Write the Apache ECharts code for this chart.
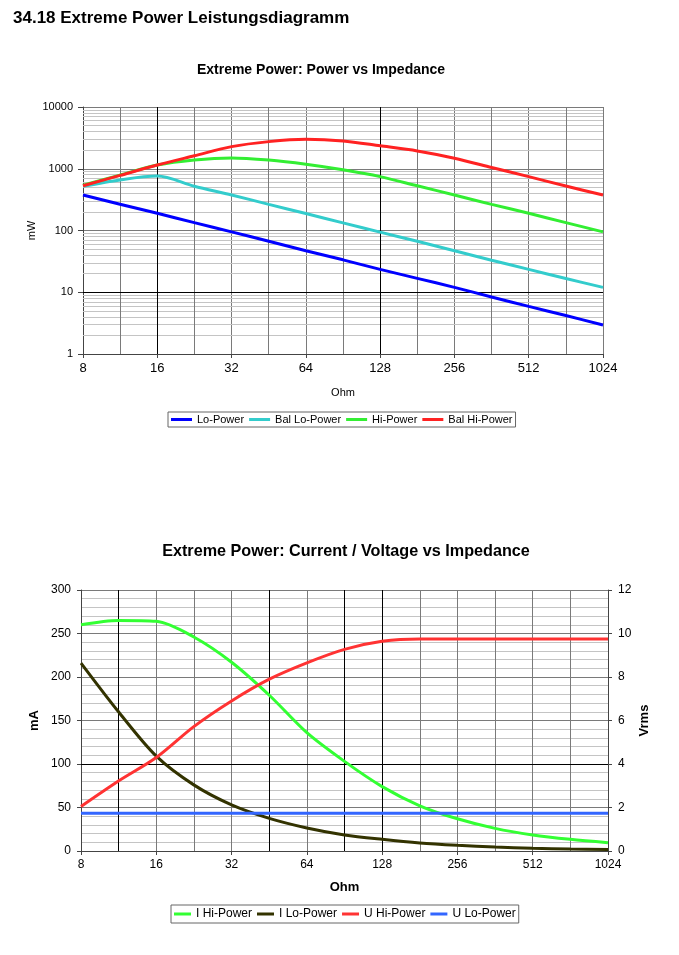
<!DOCTYPE html>
<html>
<head>
<meta charset="utf-8">
<script src="https://cdn.jsdelivr.net/npm/echarts@6/dist/echarts.min.js"></script>
<style>
html, body { margin: 0; padding: 0; background: #fff; }
#main { width: 679px; height: 955px; }
</style>
</head>
<body>
<div id="main"></div>
<script>
// impedance points (Ohm), half-octave steps
var ohm = [8, 11.3, 16, 22.6, 32, 45.3, 64, 90.5, 128, 181, 256, 362, 512, 724, 1024];

// power (mW)
var loPower    = [376, 266, 190, 134, 95, 67, 47, 33.5, 23.5, 16.8, 12, 8.4, 5.9, 4.2, 2.95];
var balLoPower = [520, 660, 760, 520, 376, 265, 188, 133, 94, 67, 47, 33, 23.5, 16.7, 12];
var hiPower    = [540, 790, 1150, 1390, 1500, 1380, 1180, 960, 745, 530, 376, 265, 190, 134, 95];
var balHiPower = [530, 780, 1150, 1620, 2280, 2750, 3000, 2820, 2350, 1940, 1480, 1050, 745, 525, 376];

// current (mA) / voltage (Vrms)
var iHiPower = [260, 265, 264, 246, 217, 179, 136, 103, 74, 52, 37, 26, 18.5, 13.4, 9.5];
var iLoPower = [216, 160, 109, 76, 53, 37.5, 26.5, 18.5, 13.4, 9.2, 6.5, 4.5, 3.2, 2.3, 1.6];
var uHiPower = [2.05, 3.22, 4.3, 5.72, 6.9, 7.9, 8.65, 9.27, 9.64, 9.75, 9.75, 9.75, 9.75, 9.75, 9.75];
var uLoPower = [1.73, 1.73, 1.73, 1.73, 1.73, 1.73, 1.73, 1.73, 1.73, 1.73, 1.73, 1.73, 1.73, 1.73, 1.73];

// grid helper values
var halfOctaves = [11.31, 22.63, 45.25, 90.51, 181.02, 362.04, 724.08];
var blackTop = [16, 128];
var blackBottom = [11.31, 45.25, 90.51, 128];

function pairs(xs, ys) {
	return xs.map(function (x, i) { return [x, ys[i]]; });
}

var font = "'Liberation Sans', Arial, sans-serif";
var gray = '#7a7a7a';
var light = '#c4c4c4';

// minor horizontal lines of the log axis: 2..9 of every decade
var topLines = [];
[1, 10, 100, 1000].forEach(function (d) {
	for (var k = 2; k <= 9; k++) topLines.push({ yAxis: k * d });
});
halfOctaves.forEach(function (v) {
	topLines.push({ xAxis: v, lineStyle: { color: gray } });
});
blackTop.forEach(function (v) {
	topLines.push({ xAxis: v, lineStyle: { color: '#000' } });
});
topLines.push({ yAxis: 10, lineStyle: { color: '#000' } });

var bottomLines = [];
halfOctaves.forEach(function (v) {
	bottomLines.push({ xAxis: v, lineStyle: { color: gray } });
});
blackBottom.forEach(function (v) {
	bottomLines.push({ xAxis: v, lineStyle: { color: '#000' } });
});
bottomLines.push({ yAxis: 100, lineStyle: { color: '#000' } });

function gridSeries(x, y, lines) {
	return {
		type: 'line', name: 'grid' + x, xAxisIndex: x, yAxisIndex: y, data: [], z: 1, silent: true,
		markLine: {
			z: 1, silent: true, symbol: ['none', 'none'], animation: false,
			label: { show: false },
			lineStyle: { type: 'solid', width: 1, color: light },
			emphasis: { disabled: true },
			data: lines
		}
	};
}

function line(name, data, color, x, y) {
	return {
		name: name, type: 'line', xAxisIndex: x, yAxisIndex: y,
		data: data, smooth: 0.3, symbol: 'none', showSymbol: false,
		lineStyle: { width: 3, color: color }, itemStyle: { color: color }, z: 10
	};
}

function logX(grid, name, nameStyle, gap, labelSize) {
	return {
		gridIndex: grid, type: 'log', logBase: 2, min: 8, max: 1024,
		name: name, nameLocation: 'middle', nameGap: gap, nameTextStyle: nameStyle,
		nameMoveOverlap: false,
		axisLine: { lineStyle: { color: '#444' } },
		axisTick: { show: true, length: 4, lineStyle: { color: '#444' } },
		axisLabel: { fontSize: labelSize, color: '#000', margin: 8,
			formatter: function (v) { return String(Math.round(v)); } },
		splitLine: { show: true, lineStyle: { color: gray } }
	};
}

var myChart = echarts.init(document.getElementById('main'));
var option = {
	animation: false,
	textStyle: { fontFamily: font },
	title: [
		{ text: '34.18 Extreme Power Leistungsdiagramm', left: 13, top: 10, padding: 0,
			textStyle: { fontSize: 17, fontWeight: 'bold', color: '#000' } },
		{ text: 'Extreme Power: Power vs Impedance', left: 321, top: 63, padding: 0, textAlign: 'center',
			textStyle: { fontSize: 14, fontWeight: 'bold', color: '#000' } },
		{ text: 'Extreme Power: Current / Voltage vs Impedance', left: 346, top: 544, padding: 0, textAlign: 'center',
			textStyle: { fontSize: 16.2, fontWeight: 'bold', color: '#000' } }
	],
	legend: [
		{
			data: ['Lo-Power', 'Bal Lo-Power', 'Hi-Power', 'Bal Hi-Power'],
			left: 168, top: 412, orient: 'horizontal',
			icon: 'rect', itemWidth: 21, itemHeight: 3, itemGap: 5,
			padding: [2, 3], borderColor: '#666', borderWidth: 1,
			textStyle: { fontSize: 11, color: '#000' }
		},
		{
			data: ['I Hi-Power', 'I Lo-Power', 'U Hi-Power', 'U Lo-Power'],
			left: 171, top: 905, orient: 'horizontal',
			icon: 'rect', itemWidth: 17, itemHeight: 3, itemGap: 5,
			padding: [3, 3], borderColor: '#666', borderWidth: 1,
			textStyle: { fontSize: 12, color: '#000' }
		}
	],
	grid: [
		{ left: 83, top: 107, width: 520, height: 247 },
		{ left: 81, top: 590, width: 527, height: 261 }
	],
	xAxis: [
		logX(0, 'Ohm', { fontSize: 11, color: '#000' }, 33, 13),
		logX(1, 'Ohm', { fontSize: 13, fontWeight: 'bold', color: '#000' }, 30, 12)
	],
	yAxis: [
		{
			gridIndex: 0, type: 'log', logBase: 10, min: 1, max: 10000,
			name: 'mW', nameLocation: 'middle', nameGap: 46, nameMoveOverlap: false,
			nameTextStyle: { fontSize: 11, color: '#000' },
			axisLine: { show: true, lineStyle: { color: '#444' } },
			axisTick: { show: true, length: 5, lineStyle: { color: '#444' } },
			axisLabel: { fontSize: 11, color: '#000', margin: 10,
				formatter: function (v) { return String(Math.round(v)); } },
			splitLine: { show: true, lineStyle: { color: gray } }
		},
		{
			gridIndex: 1, type: 'value', min: 0, max: 300, interval: 50,
			name: 'mA', nameLocation: 'middle', nameGap: 40, nameMoveOverlap: false,
			nameTextStyle: { fontSize: 13, fontWeight: 'bold', color: '#000' },
			axisLine: { show: true, lineStyle: { color: '#444' } },
			axisTick: { show: true, length: 4, lineStyle: { color: '#444' } },
			axisLabel: { fontSize: 12, color: '#000', margin: 10 },
			splitLine: { show: true, lineStyle: { color: gray } },
			minorTick: { show: false, splitNumber: 5 },
			minorSplitLine: { show: true, lineStyle: { color: light } }
		},
		{
			gridIndex: 1, type: 'value', position: 'right', min: 0, max: 12, interval: 2,
			name: 'Vrms', nameLocation: 'middle', nameGap: 30, nameMoveOverlap: false,
			nameTextStyle: { fontSize: 13, fontWeight: 'bold', color: '#000' },
			axisLine: { show: true, lineStyle: { color: '#444' } },
			axisTick: { show: true, length: 4, lineStyle: { color: '#444' } },
			axisLabel: { fontSize: 12, color: '#000', margin: 10 },
			splitLine: { show: false }
		}
	],
	series: [
		gridSeries(0, 0, topLines),
		gridSeries(1, 1, bottomLines),
		line('Lo-Power', pairs(ohm, loPower), '#0000ff', 0, 0),
		line('Bal Lo-Power', pairs(ohm, balLoPower), '#33cccc', 0, 0),
		line('Hi-Power', pairs(ohm, hiPower), '#33ee33', 0, 0),
		line('Bal Hi-Power', pairs(ohm, balHiPower), '#ff2222', 0, 0),
		line('I Hi-Power', pairs(ohm, iHiPower), '#33ff33', 1, 1),
		line('I Lo-Power', pairs(ohm, iLoPower), '#333300', 1, 1),
		line('U Hi-Power', pairs(ohm, uHiPower), '#ff3333', 1, 2),
		line('U Lo-Power', pairs(ohm, uLoPower), '#3366ff', 1, 2)
	]
};
myChart.setOption(option);
</script>
</body>
</html>
